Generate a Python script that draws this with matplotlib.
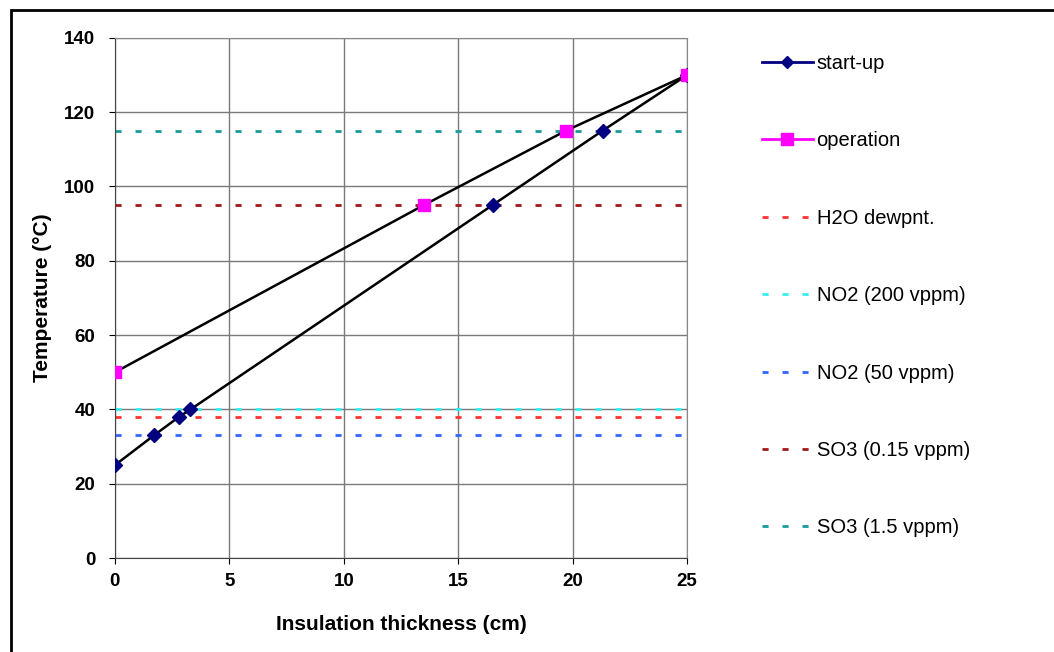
import matplotlib.pyplot as plt
from matplotlib.lines import Line2D
from matplotlib.patches import Rectangle

plt.rcParams['font.family'] = ['Liberation Sans', 'DejaVu Sans']

# start-up and operation curves
startup_x = [0, 1.7, 2.8, 3.3, 16.5, 21.3, 25]
startup_y = [25, 33, 38, 40, 95, 115, 130]
operation_x = [0, 13.5, 19.7, 25]
operation_y = [50, 95, 115, 130]

# dew point levels
levels = [38, 40, 33, 95, 115]
level_labels = ["H2O dewpnt.", "NO2 (200 vppm)", "NO2 (50 vppm)", "SO3 (0.15 vppm)", "SO3 (1.5 vppm)"]
level_colors = ["#ff3333", "#33f0f0", "#3366ff", "#a01818", "#1a9a9a"]

x_ticks = [0, 5, 10, 15, 20, 25]
y_ticks = [0, 20, 40, 60, 80, 100, 120, 140]

dash = (0, (2.2, 5))

fig = plt.figure(figsize=(10.54, 6.52), dpi=100)
ax = fig.add_axes([0.109, 0.144, 0.543, 0.798])

for y, lab, c in zip(levels, level_labels, level_colors):
    ax.axhline(y, color=c, lw=2, ls=dash, label=lab, zorder=2)

ax.plot(startup_x, startup_y, color="black", lw=1.8, zorder=3)
ax.plot(operation_x, operation_y, color="black", lw=1.8, zorder=3)
ax.plot(startup_x, startup_y, ls="none", marker="D", ms=7, color="#000080", zorder=4)
ax.plot(operation_x, operation_y, ls="none", marker="s", ms=9, color="#ff00ff", zorder=4)

ax.set_xlim(0, 25)
ax.set_ylim(0, 140)
ax.set_xticks(x_ticks)
ax.set_yticks(y_ticks)
ax.grid(True, color="#7a7a7a", lw=1)
ax.set_axisbelow(True)
for s in ["top", "right"]:
    ax.spines[s].set_color("#888888")
for s in ["left", "bottom"]:
    ax.spines[s].set_color("#444444")
ax.tick_params(labelsize=13.5, length=4)
ax.tick_params(axis="y", pad=10)
ax.tick_params(axis="x", pad=7)
for t in ax.get_xticklabels() + ax.get_yticklabels():
    t.set_fontweight("bold")
ax.set_xlabel("Insulation thickness (cm)", fontsize=15, fontweight="bold", labelpad=18)
ax.set_ylabel("Temperature (°C)", fontsize=15, fontweight="bold", labelpad=9)

handles = [Line2D([], [], color="#000080", lw=2, marker="D", ms=6),
           Line2D([], [], color="#ff00ff", lw=2, marker="s", ms=8)]
handles += [Line2D([], [], color=c, lw=2, ls=dash) for c in level_colors]
labels = ["start-up", "operation"] + level_labels
fig.legend(handles, labels, loc="upper left", bbox_to_anchor=(0.706, 0.945),
           frameon=False, fontsize=14.5, labelspacing=2.9, handlelength=2.5,
           handletextpad=0.2)

fig.add_artist(Rectangle((0.010, -0.05), 1.1, 0.035 + 1.0, transform=fig.transFigure,
                         fill=False, ec="black", lw=2))

fig.savefig("out.png", dpi=100)
